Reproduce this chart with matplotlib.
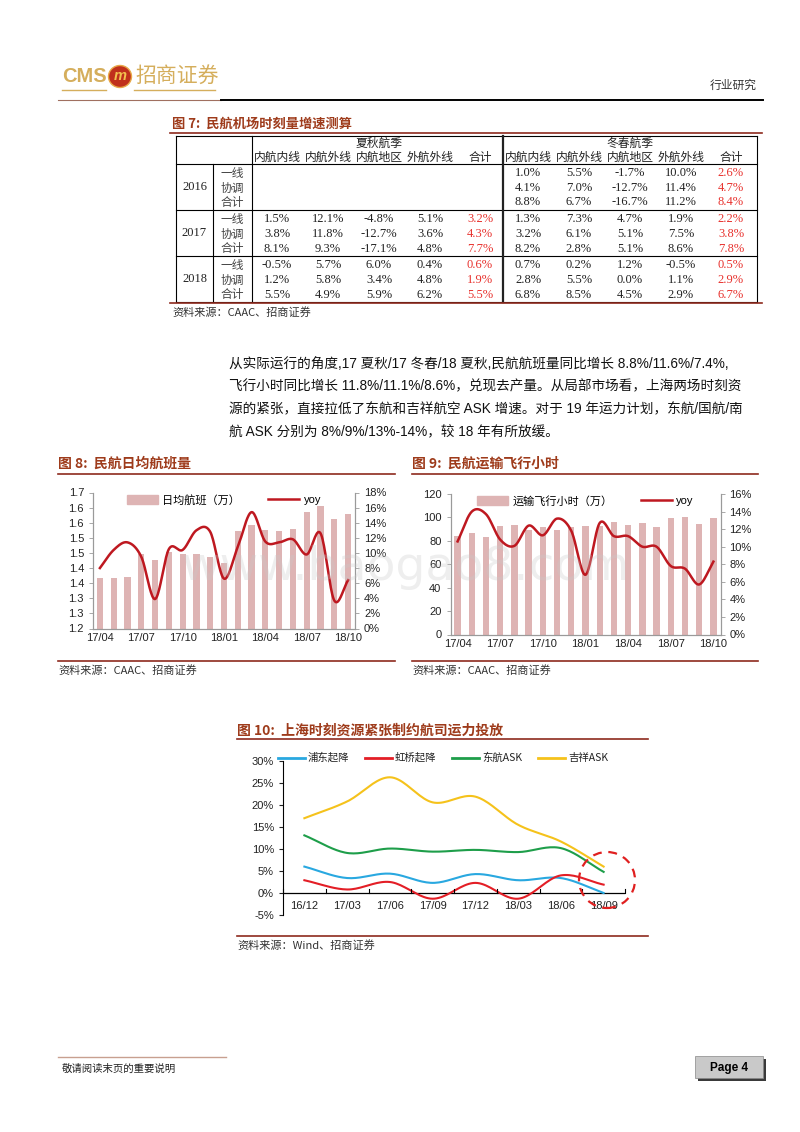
import numpy as np
import matplotlib
matplotlib.use('Agg')
import matplotlib.pyplot as plt
from matplotlib.lines import Line2D
from matplotlib.patches import Rectangle, Circle, Ellipse

plt.rcParams['font.family'] = ['Liberation Sans', 'Noto Sans CJK SC']
CJK = ['Noto Sans CJK SC', 'DejaVu Sans']
SANS = ['Liberation Sans', 'Noto Sans CJK SC']
SERIF = ['Liberation Serif', 'Noto Sans CJK SC']

# ---------------- data ----------------
table_cols = ['内航内线', '内航外线', '内航地区', '外航外线', '合计']
seasons = ['夏秋航季', '冬春航季']
years = ['2016', '2017', '2018']
row_labels = ['一线', '协调', '合计']
summer_2016 = None
summer_2017 = [[1.5, 12.1, -4.8, 5.1, 3.2], [3.8, 11.8, -12.7, 3.6, 4.3], [8.1, 9.3, -17.1, 4.8, 7.7]]
summer_2018 = [[-0.5, 5.7, 6.0, 0.4, 0.6], [1.2, 5.8, 3.4, 4.8, 1.9], [5.5, 4.9, 5.9, 6.2, 5.5]]
winter_2016 = [[1.0, 5.5, -1.7, 10.0, 2.6], [4.1, 7.0, -12.7, 11.4, 4.7], [8.8, 6.7, -16.7, 11.2, 8.4]]
winter_2017 = [[1.3, 7.3, 4.7, 1.9, 2.2], [3.2, 6.1, 5.1, 7.5, 3.8], [8.2, 2.8, 5.1, 8.6, 7.8]]
winter_2018 = [[0.7, 0.2, 1.2, -0.5, 0.5], [2.8, 5.5, 0.0, 1.1, 2.9], [6.8, 8.5, 4.5, 2.9, 6.7]]

months = ['17/04', '17/05', '17/06', '17/07', '17/08', '17/09', '17/10', '17/11', '17/12',
          '18/01', '18/02', '18/03', '18/04', '18/05', '18/06', '18/07', '18/08', '18/09', '18/10']
flights = [1.366, 1.366, 1.369, 1.445, 1.427, 1.452, 1.445, 1.445, 1.435,
           1.418, 1.523, 1.543, 1.526, 1.523, 1.528, 1.587, 1.604, 1.563, 1.579]
flights_yoy = [8.0, 10.4, 11.4, 9.5, 3.9, 10.5, 10.4, 13.0, 12.8,
               6.6, 10.8, 15.4, 11.5, 11.4, 11.8, 9.8, 12.6, 3.7, 6.4]
flights_ticklabels = ['1.2', '1.3', '1.3', '1.4', '1.4', '1.5', '1.5', '1.6', '1.6', '1.7']

hours = [84.1, 87.0, 83.5, 92.4, 93.6, 89.3, 91.6, 89.3, 91.9,
         93.0, 93.0, 96.2, 93.9, 95.3, 92.2, 99.6, 100.5, 94.7, 99.3]
hours_yoy = [10.6, 14.0, 13.7, 10.8, 10.1, 12.4, 11.3, 13.2, 11.8,
             6.8, 12.7, 11.2, 11.2, 10.0, 10.0, 7.8, 7.5, 5.7, 8.3]

quarters = ['16/12', '17/03', '17/06', '17/09', '17/12', '18/03', '18/06', '18/09']
pudong = [6.0, 3.4, 4.4, 2.3, 4.3, 2.9, 3.4, 0.0]
hongqiao = [2.9, 0.8, 2.5, -1.3, 2.3, -1.3, 4.0, 1.9]
mu_ask = [13.1, 9.1, 10.1, 9.4, 9.8, 9.3, 10.2, 4.8]
jx_ask = [17.0, 20.8, 26.3, 20.6, 21.9, 15.5, 11.7, 6.0]
fig10_names = ['浦东起降', '虹桥起降', '东航ASK', '吉祥ASK']

# ---------------- helpers ----------------
W, H = 800, 1132
fig = plt.figure(figsize=(8, 11.32), dpi=100)
fig.patch.set_facecolor('white')


def fx(x):
    return x / W


def fy(y):
    return 1 - y / H


def T(x, y, s, **kw):
    kw.setdefault('va', 'center')
    return fig.text(fx(x), fy(y), s, **kw)


def HL(x0, x1, y, **kw):
    fig.add_artist(Line2D([fx(x0), fx(x1)], [fy(y), fy(y)], **kw))


def VL(x, y0, y1, **kw):
    fig.add_artist(Line2D([fx(x), fx(x)], [fy(y0), fy(y1)], **kw))


def add_ax(l, t, r, b):
    return fig.add_axes([fx(l), fy(b), (r - l) / W, (b - t) / H])


def smooth(x, y, n=20):
    P = np.column_stack([np.asarray(x, float), np.asarray(y, float)])
    P = np.vstack([P[0] - (P[1] - P[0]), P, P[-1] + (P[-1] - P[-2])])
    t = np.linspace(0, 1, n, endpoint=False)[:, None]
    out = []
    for i in range(1, len(P) - 2):
        p0, p1, p2, p3 = P[i - 1], P[i], P[i + 1], P[i + 2]
        seg = 0.5 * ((2 * p1) + (-p0 + p2) * t + (2 * p0 - 5 * p1 + 4 * p2 - p3) * t ** 2
                     + (-p0 + 3 * p1 - 3 * p2 + p3) * t ** 3)
        out.append(seg)
    out.append(P[-2][None, :])
    out = np.vstack(out)
    return out[:, 0], out[:, 1]


TITLE_C = '#9E3B1B'
RULE_C = '#8E2A1E'
RED_NUM = '#E8322E'
BAR_C = '#DEB4B4'
LINE_C = '#BE1820'
AX_C = '#9A9A9A'

# ---------------- header ----------------
GOLD = '#D5AE5C'
T(62, 77, 'CMS', fontsize=14.5, fontweight='bold', color=GOLD, family=SANS, ha='left')
fig.add_artist(Ellipse((fx(120), fy(76.5)), 23 / W, 22 / H, transform=fig.transFigure,
                       facecolor='#C0301C', edgecolor='#E8A848', lw=1))
T(120, 76.5, 'm', fontsize=10.5, fontweight='bold', style='italic', color='#F2C24E', ha='center', family=SANS)
T(135, 76, '招商证券', fontsize=15, color=GOLD, family=CJK, ha='left')
HL(62, 106, 90, color=GOLD, lw=1)
HL(134, 215, 90, color=GOLD, lw=1)
T(757, 85, '行业研究', fontsize=8.5, color='#333333', family=CJK, ha='right')
HL(58, 221, 99.5, color='#A07060', lw=0.8)
HL(221, 763, 99.5, color='black', lw=1.4)

# ---------------- table (Fig 7) ----------------
T(172, 124, '图 7:  民航机场时刻量增速测算', fontsize=9.5, fontweight='bold', color=TITLE_C, family=CJK, ha='left')
HL(170, 762, 133, color=RULE_C, lw=1.2)
tl, tr = 176, 757
c_year, c_lab, c_mid = 213, 252, 503
top, hdr_b = 136, 164
block_h = 46
bot = hdr_b + 3 * block_h
lw_t = 0.8
HL(tl, tr, top, color='black', lw=lw_t)
HL(tl, tr, hdr_b, color='black', lw=lw_t)
for k in range(1, 4):
    HL(tl, tr, hdr_b + k * block_h, color='black', lw=lw_t)
VL(tl, top, bot, color='black', lw=lw_t)
VL(tr, top, bot, color='black', lw=lw_t)
VL(c_year, hdr_b, bot, color='black', lw=lw_t)
VL(c_lab, top, bot, color='black', lw=lw_t)
VL(c_mid, top, bot, color='#222222', lw=1.6)
HL(170, 762, 303, color=RULE_C, lw=1.2)

sum_x = [277, 328, 379, 430, 480]
win_x = [528, 579, 630, 681, 731]
TFS = 8.5
T(379, 143, seasons[0], fontsize=TFS, family=CJK, ha='center', color='#222222')
T(630, 143, seasons[1], fontsize=TFS, family=CJK, ha='center', color='#222222')
for i, c in enumerate(table_cols):
    T(sum_x[i], 157.5, c, fontsize=TFS, family=CJK, ha='center', color='#222222')
    T(win_x[i], 157.5, c, fontsize=TFS, family=CJK, ha='center', color='#222222')

summer = [summer_2016, summer_2017, summer_2018]
winter = [winter_2016, winter_2017, winter_2018]
for b, yr in enumerate(years):
    y0 = hdr_b + b * block_h
    T((tl + c_year) / 2, y0 + block_h / 2, yr, fontsize=TFS + 0.5, family=SERIF, ha='center', color='#222222')
    for r, lab in enumerate(row_labels):
        yy = y0 + 9.5 + r * 14.5
        T(232, yy, lab, fontsize=TFS, family=CJK, ha='center', color='#444444')
        for data, xs in ((summer[b], sum_x), (winter[b], win_x)):
            if data is None:
                continue
            for j, v in enumerate(data[r]):
                T(xs[j], yy, f'{v:.1f}%', fontsize=TFS + 0.5, family=SERIF, ha='center',
                  color=RED_NUM if j == 4 else '#222222')
T(172, 312, '资料来源：CAAC、招商证券', fontsize=8, family=CJK, ha='left', color='#333333')

# ---------------- paragraph ----------------
para = ['从实际运行的角度,17 夏秋/17 冬春/18 夏秋,民航航班量同比增长 8.8%/11.6%/7.4%,',
        '飞行小时同比增长 11.8%/11.1%/8.6%，兑现去产量。从局部市场看，上海两场时刻资',
        '源的紧张，直接拉低了东航和吉祥航空 ASK 增速。对于 19 年运力计划，东航/国航/南',
        '航 ASK 分别为 8%/9%/13%-14%，较 18 年有所放缓。']
for i, line in enumerate(para):
    T(229, 364 + i * 22.8, line, fontsize=9.8, family=SANS, ha='left', color='#111111')


def chart_frame(x0, x1, title, ytitle, yline, ysrc, src):
    T(x0, ytitle, title, fontsize=10, fontweight='bold', color=TITLE_C, family=CJK, ha='left')
    HL(x0, x1, yline, color=RULE_C, lw=1.2)
    HL(x0, x1, ysrc - 9, color=RULE_C, lw=1.2)
    T(x0, ysrc, src, fontsize=8, family=CJK, ha='left', color='#333333')


def style_dual(ax, ax2):
    for a in (ax, ax2):
        a.spines['top'].set_visible(False)
        for s in ('left', 'right', 'bottom'):
            a.spines[s].set_color(AX_C)
            a.spines[s].set_linewidth(0.8)
        a.tick_params(colors='#222222', labelsize=8, length=3, width=0.6, color=AX_C)
    ax.tick_params(axis='x', length=0, pad=3)
    ax.set_facecolor('none')


# ---------------- Fig 8 ----------------
chart_frame(58, 395, '图 8:  民航日均航班量', 464, 474, 670, '资料来源：CAAC、招商证券')
x = np.arange(len(months))
ax = add_ax(93, 492.5, 355, 628.5)
ax.bar(x, flights, width=0.45, color=BAR_C, label='日均航班（万）', zorder=2)
ax.set_ylim(1.2, 1.65)
ax.set_yticks(np.linspace(1.2, 1.65, 10))
ax.set_yticklabels(flights_ticklabels)
ax.set_xlim(-0.5, len(months) - 0.5)
ax.set_xticks(x[::3])
ax.set_xticklabels(months[::3])
ax2 = ax.twinx()
sx, sy = smooth(x, flights_yoy)
ax2.plot(sx, sy, color=LINE_C, lw=1.8, zorder=3)
ax2.set_ylim(0, 18)
ax2.set_yticks(np.arange(0, 19, 2))
ax2.set_yticklabels([f'{v}%' for v in range(0, 19, 2)])
style_dual(ax, ax2)
h1 = Rectangle((0, 0), 1, 1, color=BAR_C)
h2 = Line2D([], [], color=LINE_C, lw=1.8)
ax.legend([h1, h2], ['日均航班（万）', 'yoy'], loc='upper center', bbox_to_anchor=(0.5, 1.06),
          ncol=2, frameon=False, fontsize=8, handlelength=2.8, handleheight=0.9,
          columnspacing=2.5, handletextpad=0.4)

# ---------------- Fig 9 ----------------
chart_frame(412, 758, '图 9:  民航运输飞行小时', 464, 474, 670, '资料来源：CAAC、招商证券')
ax = add_ax(450.5, 494, 720.5, 634.5)
ax.bar(x, hours, width=0.45, color=BAR_C, zorder=2)
ax.set_ylim(0, 120)
ax.set_yticks(np.arange(0, 121, 20))
ax.set_xlim(-0.5, len(months) - 0.5)
ax.set_xticks(x[::3])
ax.set_xticklabels(months[::3])
ax2 = ax.twinx()
sx, sy = smooth(x, hours_yoy)
ax2.plot(sx, sy, color=LINE_C, lw=1.8, zorder=3)
ax2.set_ylim(0, 16)
ax2.set_yticks(np.arange(0, 17, 2))
ax2.set_yticklabels([f'{v}%' for v in range(0, 17, 2)])
style_dual(ax, ax2)
ax.legend([h1, h2], ['运输飞行小时（万）', 'yoy'], loc='upper center', bbox_to_anchor=(0.5, 1.06),
          ncol=2, frameon=False, fontsize=8, handlelength=2.8, handleheight=0.9,
          columnspacing=2.5, handletextpad=0.4)

# watermark (spans both charts in the reference)
T(405, 580, 'www.baogao8.com', fontsize=34, family=['DejaVu Sans'],
  ha='center', va='baseline', color='#C8C8C8', alpha=0.3, zorder=10)

# ---------------- Fig 10 ----------------
chart_frame(237, 648, '图 10:  上海时刻资源紧张制约航司运力投放', 731, 739, 945, '资料来源：Wind、招商证券')
ax = add_ax(283, 761, 625, 915)
q = np.arange(len(quarters))
colors10 = ['#29A8E0', '#E31E26', '#1E9E4A', '#F5C21B']
series10 = [pudong, hongqiao, mu_ask, jx_ask]
for s, c in zip(series10, colors10):
    sx, sy = smooth(q, s)
    ax.plot(sx, sy, color=c, lw=1.5)
ax.set_xlim(-0.5, len(quarters) - 0.5)
ax.set_ylim(-5, 30)
ax.set_yticks(np.arange(-5, 31, 5))
ax.set_yticklabels([f'{v}%' for v in range(-5, 31, 5)])
for s in ('top', 'right', 'bottom'):
    ax.spines[s].set_visible(False)
ax.spines['left'].set_color('black')
ax.spines['left'].set_linewidth(0.8)
ax.axhline(0, color='black', lw=0.9, zorder=1)
ax.set_xticks([])
for b in np.arange(-0.5, len(quarters), 1.0):
    ax.plot([b, b], [0, 0.8], color='black', lw=0.8, clip_on=False)
for i, lab in enumerate(quarters):
    ax.text(i, -3.0, lab, ha='center', va='center', fontsize=8, family=SANS, color='#222222')
ax.tick_params(axis='y', labelsize=8, length=3, width=0.8, colors='#222222')
ax.set_facecolor('none')
leg_x = [278, 365, 452, 538]
for hx, name, c in zip(leg_x, fig10_names, colors10):
    HL(hx, hx + 27, 757.5, color=c, lw=2)
    T(hx + 30, 757.5, name, fontsize=7.5, family=CJK, ha='left', color='#222222')
fig.add_artist(Ellipse((fx(607), fy(880)), 56 / W, 56 / H, transform=fig.transFigure,
                       facecolor='none', edgecolor='#E02020', lw=1.6, ls=(0, (4, 3))))

# ---------------- footer ----------------
HL(58, 226, 1057, color='#C8A090', lw=1)
T(62, 1069, '敬请阅读末页的重要说明', fontsize=7.5, family=CJK, ha='left', color='#222222')
fig.add_artist(Rectangle((fx(698), fy(1081)), 68 / W, 22 / H, transform=fig.transFigure,
                         facecolor='#3A3A3A', edgecolor='none'))
fig.add_artist(Rectangle((fx(695), fy(1078)), 68 / W, 22 / H, transform=fig.transFigure,
                         facecolor='#C9C9C9', edgecolor='#888888', lw=0.5))
T(729, 1068, 'Page 4', fontsize=8.5, fontweight='bold', family=SANS, ha='center', color='black')

fig.savefig('out.png', dpi=100)
